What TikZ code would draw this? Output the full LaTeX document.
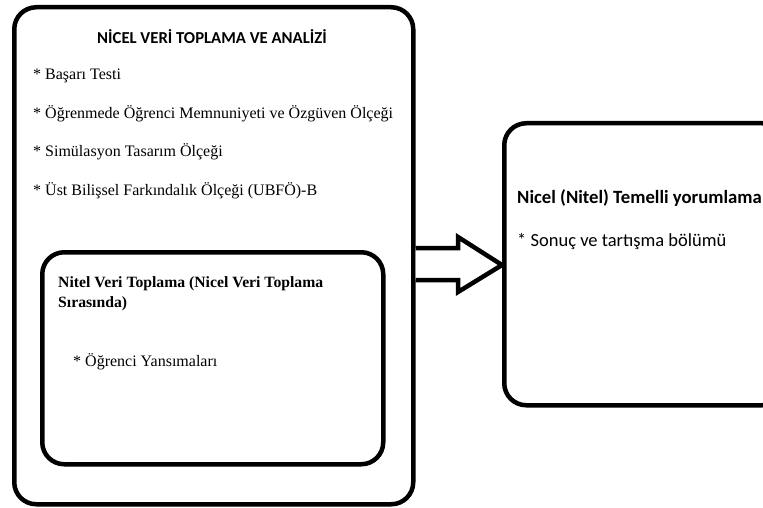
\documentclass[tikz,border=0pt]{standalone}
\usepackage{fontspec}
\setmainfont{Liberation Serif}
\newfontfamily\carl{Carlito}
\usetikzlibrary{calc}
\tikzset{
  box/.style={draw=black, line width=4.5pt, rounded corners=22pt, fill=white, inner sep=0pt},
  serifitem/.style={anchor=base west, inner sep=0pt, font=\fontsize{16}{18}\selectfont},
  serifbold/.style={anchor=base west, inner sep=0pt, font=\fontsize{15.7}{18}\selectfont\bfseries},
  sanstitle/.style={inner sep=0pt, font=\carl\fontsize{16.7}{19}\selectfont\bfseries},
  sansitem/.style={anchor=base west, inner sep=0pt, font=\carl\fontsize{18.5}{21}\selectfont},
  sansbold/.style={anchor=base west, inner sep=0pt, font=\carl\fontsize{18.7}{21}\selectfont\bfseries},
  blockarrow/.style={draw=black, line width=4.5pt, fill=white, line join=miter}
}
\begin{document}
\begin{tikzpicture}[x=1pt,y=-1pt]
\useasboundingbox (0,0) rectangle (763,508);
\clip (0,0) rectangle (763,508);
\fill[white] (0,0) rectangle (763,508);
% outer box
\node[box, minimum width=399pt, minimum height=497pt, anchor=north west] (outer) at (12,5) {};
% inner box
\node[box, minimum width=341pt, minimum height=212pt, anchor=north west] (inner) at (40,250) {};
% right box
\node[box, minimum width=280pt, minimum height=282pt, anchor=north west] (right) at (502,121) {};
% block arrow
\draw[blockarrow] (outer.east |- 0,248) -- (458,248) -- (458,237) -- (right.west |- 0,265) -- (458,292) -- (458,280) -- (outer.east |- 0,280);
% texts outer
\node[sanstitle] (title) at (212,37) {NİCEL VERİ TOPLAMA VE ANALİZİ};
\node[serifitem] (i1) at (33,80) {* Başarı Testi};
\node[serifitem] (i2) at (33,119) {* Öğrenmede Öğrenci Memnuniyeti ve Özgüven Ölçeği};
\node[serifitem] (i3) at (33,157) {* Simülasyon Tasarım Ölçeği};
\node[serifitem] (i4) at (33,195) {* Üst Bilişsel Farkındalık Ölçeği (UBFÖ)-B};
% texts inner
\node[serifbold] (n1) at (58,287) {Nitel Veri Toplama (Nicel Veri Toplama};
\node[serifbold] (n2) at (58,307) {Sırasında)};
\node[serifitem] (n3) at (73,366) {* Öğrenci Yansımaları};
% texts right
\node[sansbold] (r1) at (517,204) {Nicel (Nitel) Temelli yorumlama};
\node[sansitem] (r2) at (517,246) {* Sonuç ve tartışma bölümü};
\end{tikzpicture}
\end{document}
